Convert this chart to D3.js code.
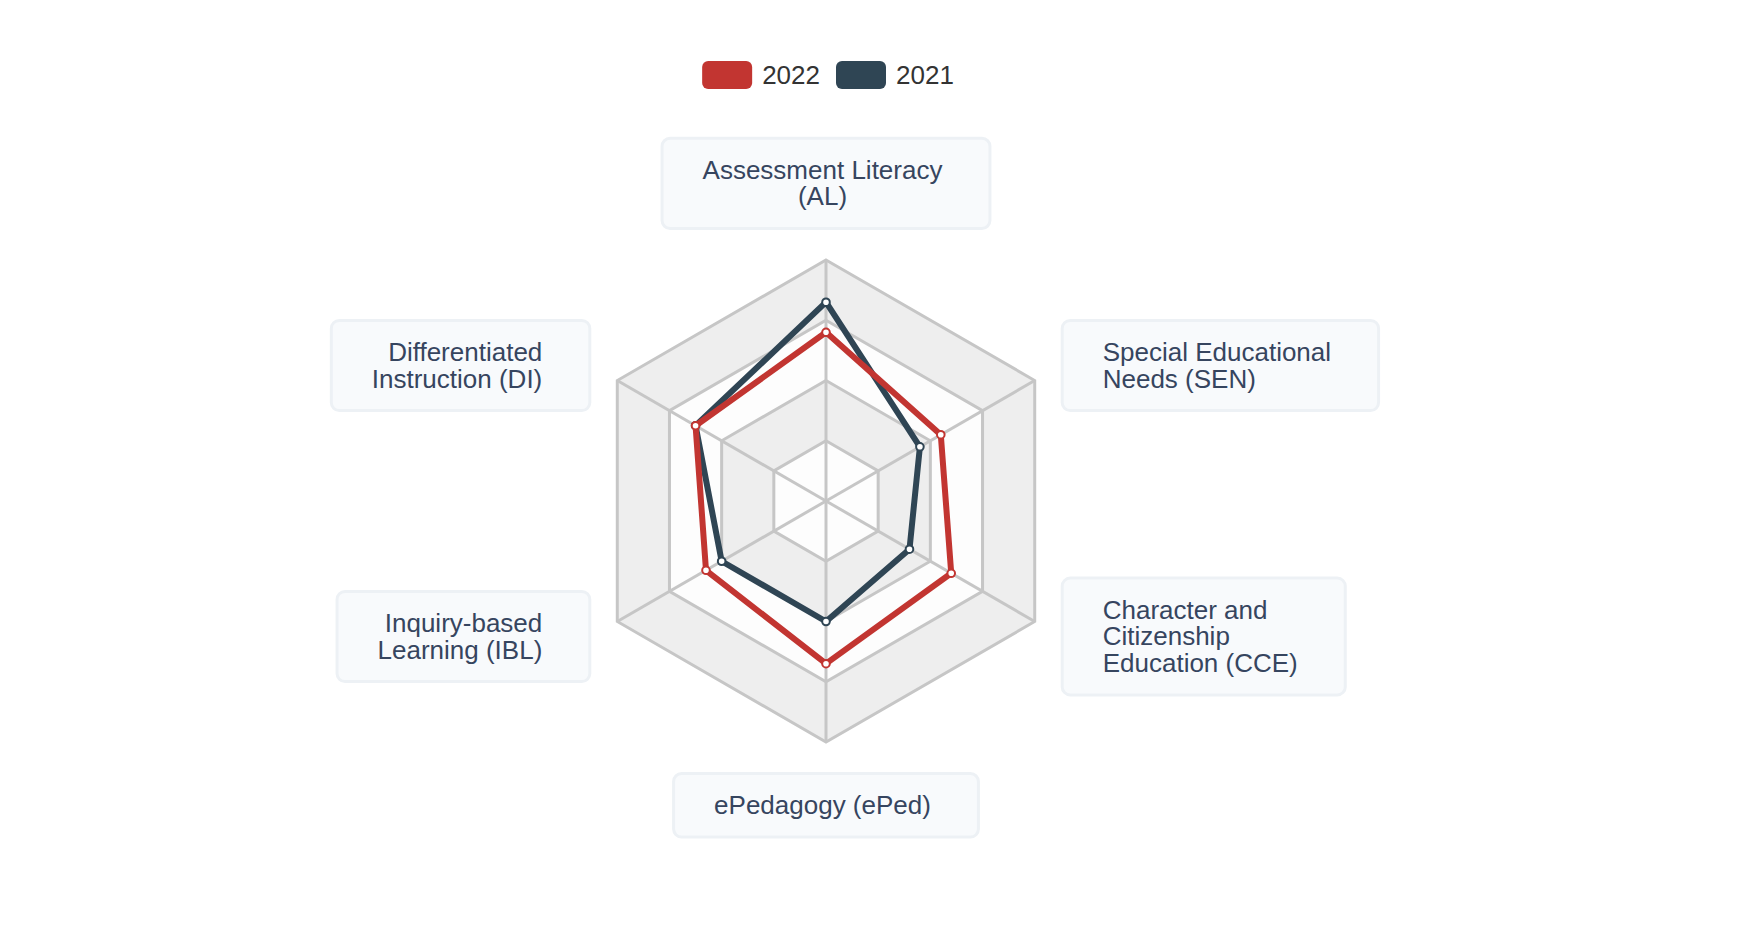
<!DOCTYPE html>
<html>
<head>
<meta charset="utf-8">
<script src="https://cdn.jsdelivr.net/npm/d3@7"></script>
<style>
  html, body { margin: 0; padding: 0; background: #fff; }
  svg { display: block; }
</style>
</head>
<body>
<svg id="radar" width="1752" height="944"></svg>
<script>
/* datos del radar: ejes en sentido horario desde arriba */
const categorias = [
  "Assessment Literacy\n(AL)",
  "Special Educational\nNeeds (SEN)",
  "Character and\nCitizenship\nEducation (CCE)",
  "ePedagogy (ePed)",
  "Inquiry-based\nLearning (IBL)",
  "Differentiated\nInstruction (DI)"
];
const series = ["2022", "2021"];
const valores2022 = [2.8, 2.2, 2.4, 2.7, 2.3, 2.5];
const valores2021 = [3.3, 1.8, 1.6, 2.0, 2.0, 2.5];
const niveles = [1, 2, 3, 4];
const maximo = 4;

const colores = { "2022": "#c23531", "2021": "#2f4554" };
const fuente = "'Liberation Sans', Arial, Helvetica, sans-serif";

const svg = d3.select("#radar");
const cx = 826, cy = 501, R = 241;
const n = categorias.length;
const angulo = i => i * 2 * Math.PI / n;

const r = d3.scaleLinear().domain([0, maximo]).range([0, R]);

const poligono = d3.lineRadial()
  .angle((d, i) => angulo(i))
  .radius(d => r(d))
  .curve(d3.curveLinearClosed);

const g = svg.append("g").attr("transform", `translate(${cx},${cy})`);

/* bandas alternas, de afuera hacia adentro */
g.append("g")
  .selectAll("path")
  .data(niveles.slice().reverse())
  .join("path")
  .attr("d", k => poligono(categorias.map(() => k)))
  .attr("fill", k => k % 2 === 0 ? "#eeeeee" : "#fdfdfd")
  .attr("stroke", "#c6c6c6")
  .attr("stroke-width", 3);

/* ejes */
g.append("g")
  .selectAll("line")
  .data(categorias)
  .join("line")
  .attr("x1", 0).attr("y1", 0)
  .attr("x2", (d, i) => r(maximo) * Math.sin(angulo(i)))
  .attr("y2", (d, i) => -r(maximo) * Math.cos(angulo(i)))
  .attr("stroke", "#c6c6c6")
  .attr("stroke-width", 3);

/* series: 2021 primero, 2022 encima */
const datosSerie = { "2022": valores2022, "2021": valores2021 };
["2021", "2022"].forEach(s => {
  const vals = datosSerie[s];
  g.append("path")
    .attr("d", poligono(vals))
    .attr("fill", "none")
    .attr("stroke", colores[s])
    .attr("stroke-width", 6)
    .attr("stroke-linejoin", "round");

  g.append("g")
    .selectAll("circle")
    .data(vals)
    .join("circle")
    .attr("cx", (d, i) => r(d) * Math.sin(angulo(i)))
    .attr("cy", (d, i) => -r(d) * Math.cos(angulo(i)))
    .attr("r", 3.8)
    .attr("fill", "#fff")
    .attr("stroke", colores[s])
    .attr("stroke-width", 2);
});

/* etiquetas en cajas */
const distEtiqueta = R + 30;
const padIzq = 42, padDer = 49, interlinea = 26.6;

categorias.forEach((cat, i) => {
  const a = angulo(i);
  const ax = cx + distEtiqueta * Math.sin(a);
  const ay = cy - distEtiqueta * Math.cos(a);
  const lineas = cat.split("\n");
  const dx = Math.sin(a);

  const caja = svg.append("g");
  const rect = caja.append("rect");
  const texto = caja.append("text")
    .attr("font-family", fuente)
    .attr("font-size", 26)
    .attr("fill", "#36455f");
  lineas.forEach(l => texto.append("tspan").text(l));

  let anchoMax = 0;
  texto.selectAll("tspan").each(function() {
    anchoMax = Math.max(anchoMax, this.getComputedTextLength());
  });

  const w = anchoMax + padIzq + padDer;
  const h = 40 + interlinea * lineas.length;
  let x0, y0, ancla, tx;
  if (Math.abs(dx) < 0.01) {
    x0 = ax - w / 2;
    y0 = Math.cos(a) > 0 ? ay - h : ay;
    ancla = "middle";
    tx = x0 + padIzq + anchoMax / 2;
  } else if (dx > 0) {
    x0 = ax; y0 = ay - h / 2;
    ancla = "start";
    tx = x0 + padIzq;
  } else {
    x0 = ax - w; y0 = ay - h / 2;
    ancla = "end";
    tx = x0 + w - padDer;
  }

  rect.attr("x", x0 + 1.5).attr("y", y0 + 1.5)
    .attr("width", w - 3).attr("height", h - 3)
    .attr("rx", 8)
    .attr("fill", "#f8fafc")
    .attr("stroke", "#edf1f5")
    .attr("stroke-width", 3);

  texto.attr("text-anchor", ancla);
  texto.selectAll("tspan")
    .attr("x", tx)
    .attr("y", (d, j) => y0 + 42 + j * interlinea);
});

/* leyenda */
const leyenda = svg.append("g");
const items = leyenda.selectAll("g")
  .data(series)
  .join("g");
items.append("rect")
  .attr("width", 50).attr("height", 28)
  .attr("rx", 6)
  .attr("fill", d => colores[d]);
items.append("text")
  .attr("x", 60)
  .attr("y", 23)
  .attr("font-family", fuente)
  .attr("font-size", 26)
  .attr("fill", "#333")
  .text(d => d);

let offset = 0;
const anchos = [];
items.each(function() {
  anchos.push(60 + d3.select(this).select("text").node().getComputedTextLength());
});
const total = d3.sum(anchos) + 16 * (anchos.length - 1);
items.attr("transform", (d, i) => {
  const x = 828 - total / 2 + offset;
  offset += anchos[i] + 16;
  return `translate(${x},61)`;
});
</script>
</body>
</html>
